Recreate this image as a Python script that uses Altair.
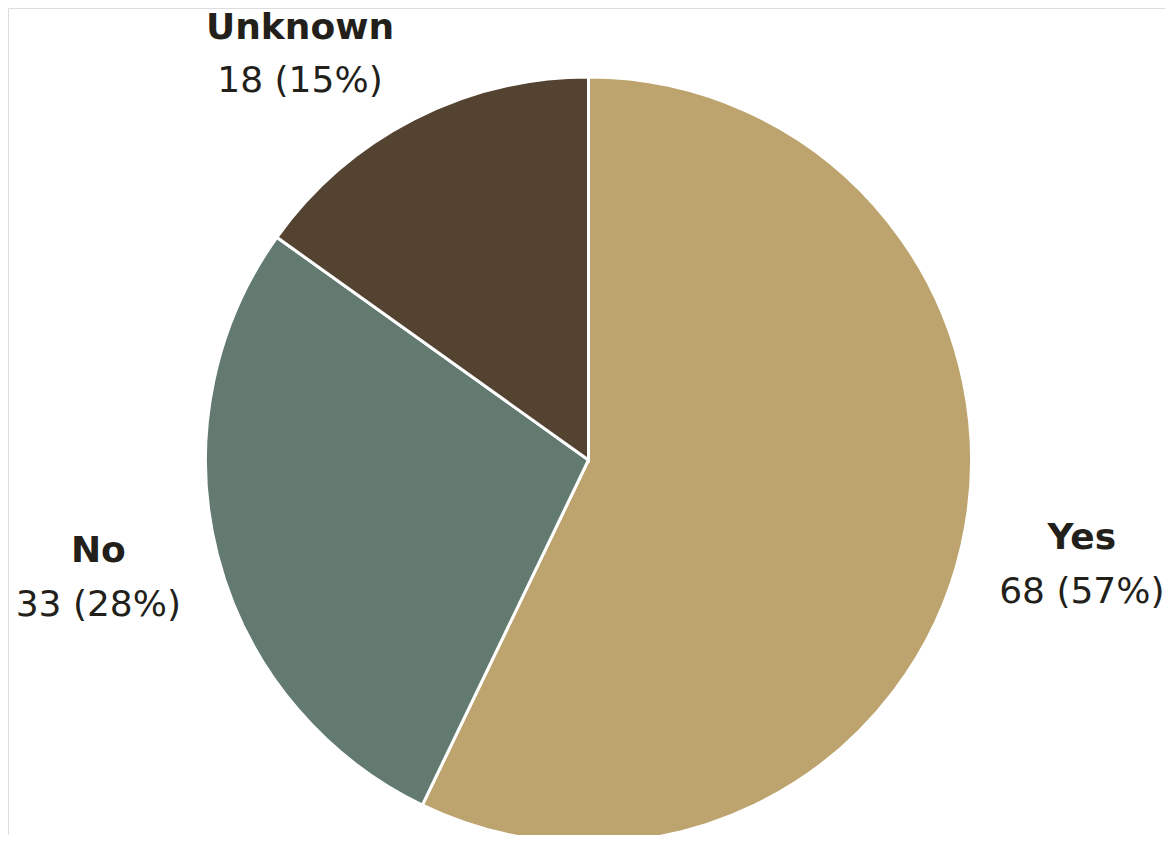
import altair as alt
import pandas as pd

categories = ["Yes", "No", "Unknown"]
counts = [68, 33, 18]
colors = ["#BDA36E", "#627A70", "#544331"]

total = sum(counts)
df = pd.DataFrame({
    "category": categories,
    "count": counts,
    "idx": list(range(len(categories))),
    "value_label": [f"{c} ({round(100 * c / total)}%)" for c in counts],
})

FONT = "DejaVu Sans"
TXT = "#231F1A"
FS = 36
R_LAB = 506

base = alt.Chart(df).encode(
    theta=alt.Theta("count:Q", stack=True, scale=alt.Scale(range=[0, 6.283185307179586])),
    order=alt.Order("idx:Q", sort="ascending"),
    x=alt.value(580.5),
    y=alt.value(452),
)

arc = base.mark_arc(outerRadius=383, stroke="white", strokeWidth=3).encode(
    color=alt.Color("category:N", scale=alt.Scale(domain=categories, range=colors), legend=None)
)

is_unknown = alt.datum.category == "Unknown"

txt_kw = dict(radius=R_LAB, fontSize=FS, font=FONT, color=TXT, baseline="alphabetic", align="center")

name_main = base.mark_text(dy=-24, fontWeight="bold", **txt_kw).encode(
    text=alt.condition(~is_unknown, "category:N", alt.value(""))
)
val_main = base.mark_text(dy=30, **txt_kw).encode(
    text=alt.condition(~is_unknown, "value_label:N", alt.value(""))
)
name_unk = base.mark_text(dx=-57, dy=29, fontWeight="bold", **txt_kw).encode(
    text=alt.condition(is_unknown, "category:N", alt.value(""))
)
val_unk = base.mark_text(dx=-57, dy=82, **txt_kw).encode(
    text=alt.condition(is_unknown, "value_label:N", alt.value(""))
)

chart = alt.layer(arc, name_main, val_main, name_unk, val_unk).properties(
    width=1157, height=827, padding=0, autosize=alt.AutoSizeParams(type="none")
).configure_view(strokeWidth=0, stroke="transparent", fill="white").configure(background="transparent")

chart.save("out.html", embed_options={"renderer": "svg", "actions": False})
